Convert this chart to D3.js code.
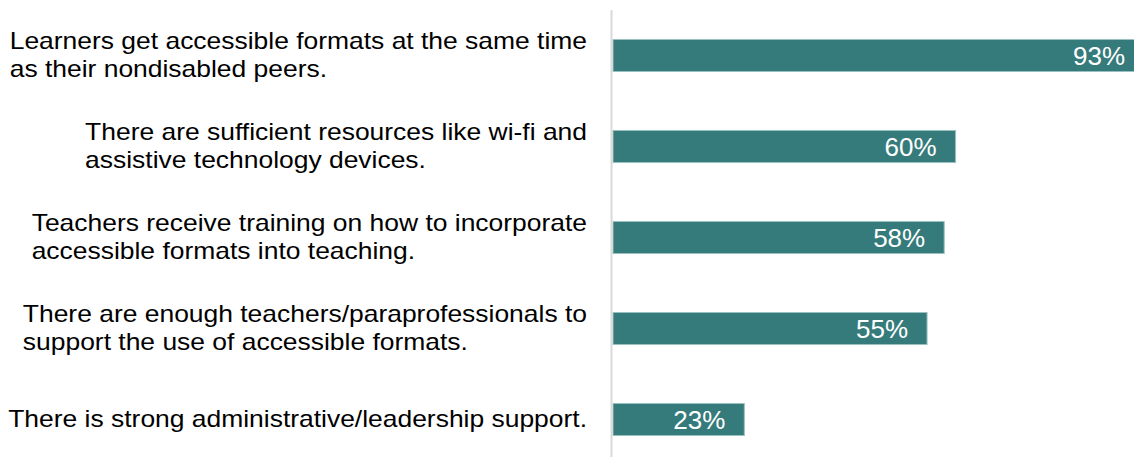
<!DOCTYPE html>
<html>
<head>
<meta charset="utf-8">
<script src="https://cdn.jsdelivr.net/npm/d3@7"></script>
<style>
  html, body { margin: 0; padding: 0; background: #ffffff; }
  svg { display: block; font-family: "Liberation Sans", Arial, sans-serif; }
</style>
</head>
<body>
<svg id="chart" width="1134" height="457"></svg>
<script>
// Survey statements (each entry is the wrapped lines of one label)
const categories = [
  ["Learners get accessible formats at the same time", "as their nondisabled peers."],
  ["There are sufficient resources like wi-fi and", "assistive technology devices."],
  ["Teachers receive training on how to incorporate", "accessible formats into teaching."],
  ["There are enough teachers/paraprofessionals to", "support the use of accessible formats."],
  ["There is strong administrative/leadership support."]
];
// Share of respondents agreeing (%)
const values = [93, 60, 58, 55, 23];
const valueLabels = ["93%", "60%", "58%", "55%", "23%"];

const width = 1134, height = 457;
const svg = d3.select("#chart");

const keys = categories.map((c, i) => i);

const x = d3.scaleLinear().domain([0, 100]).range([613, 1184]);
const y = d3.scaleBand().domain(keys).range([10, 465])
  .paddingInner(0.648).paddingOuter(0.324);

// clip bars to the drawing area
svg.append("defs").append("clipPath").attr("id", "plot-clip")
  .append("rect").attr("x", 0).attr("y", 0).attr("width", width).attr("height", height);

const plot = svg.append("g").attr("clip-path", "url(#plot-clip)");

plot.selectAll("rect.bar")
  .data(values)
  .join("rect")
  .attr("class", "bar")
  .attr("x", x(0))
  .attr("y", (d, i) => y(i))
  .attr("width", d => x(d) - x(0))
  .attr("height", y.bandwidth())
  .attr("fill", "#367b7b")
  .attr("stroke", "#9cc0c0")
  .attr("stroke-width", 1);

plot.selectAll("text.value")
  .data(values)
  .join("text")
  .attr("class", "value")
  .attr("x", d => x(d) - 19)
  .attr("y", (d, i) => y(i) + y.bandwidth() / 2)
  .attr("dy", "0.36em")
  .attr("text-anchor", "end")
  .attr("fill", "#ffffff")
  .attr("font-size", 26)
  .text((d, i) => valueLabels[i]);

// category axis line
svg.append("line")
  .attr("x1", 611.5).attr("x2", 611.5)
  .attr("y1", 10).attr("y2", height)
  .attr("stroke", "#d9d9d9")
  .attr("stroke-width", 2);

// category labels: left-aligned blocks, right edge near the axis,
// set in a slightly widened face
const lineH = 28;
const labelRight = 587;
const stretch = 1.15;
categories.forEach((lines, i) => {
  const cy = y(i) + y.bandwidth() / 2 - 1;
  const t = svg.append("text")
    .attr("transform", `translate(${labelRight},0) scale(${stretch},1)`)
    .attr("font-size", 23)
    .attr("fill", "#000000");
  const n = lines.length;
  lines.forEach((ln, j) => {
    t.append("tspan")
      .attr("x", 0)
      .attr("y", cy + (j - (n - 1) / 2) * lineH)
      .attr("dy", "0.36em")
      .text(ln);
  });
  let maxW = 0;
  t.selectAll("tspan").each(function () {
    maxW = Math.max(maxW, this.getComputedTextLength());
  });
  t.selectAll("tspan").attr("x", -maxW);
});
</script>
</body>
</html>
